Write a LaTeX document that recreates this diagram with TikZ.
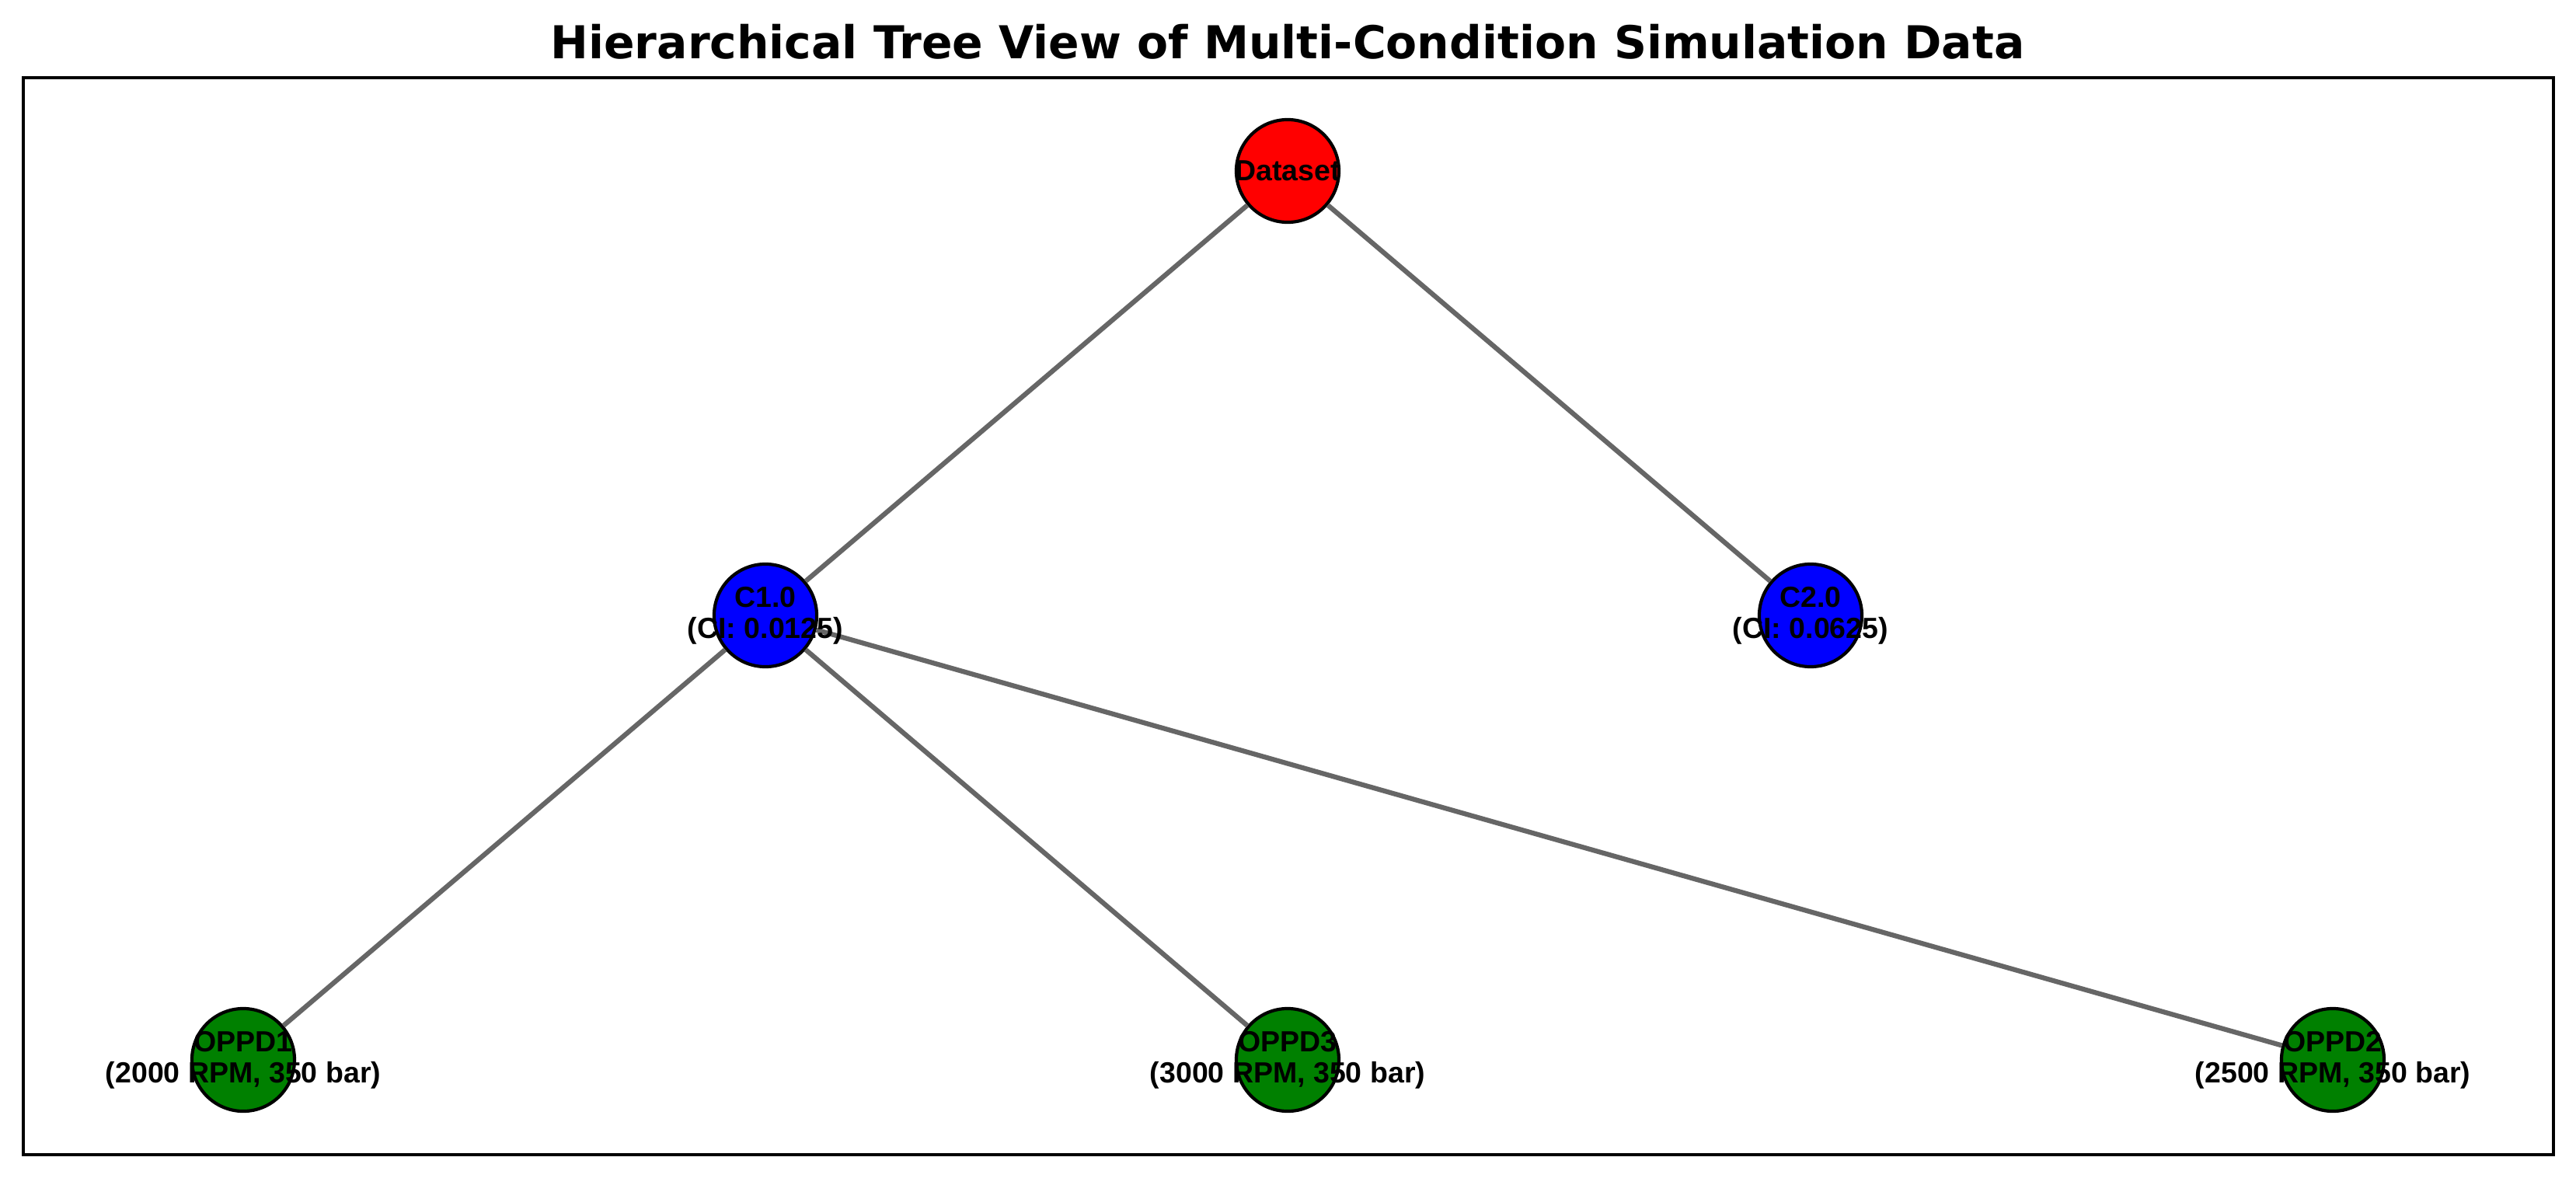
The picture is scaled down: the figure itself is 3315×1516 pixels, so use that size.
\documentclass[tikz,border=0pt]{standalone}
\usepackage{fontspec}
\newfontfamily\labfont{Liberation Sans}
\newfontfamily\ttlfont{DejaVu Sans}
\definecolor{edgegray}{HTML}{666666}
\definecolor{nred}{HTML}{FF0000}
\definecolor{nblue}{HTML}{0000FF}
\definecolor{ngreen}{HTML}{008000}
\tikzset{
  treenode/.style={circle, draw=black, line width=1pt, minimum size=31.7pt, inner sep=0pt},
  treeedge/.style={draw=edgegray, line width=1.5pt},
  nodetext/.style={align=center, inner sep=0pt, font=\labfont\bfseries\fontsize{9}{9.6}\selectfont},
  titletext/.style={inner sep=0pt, anchor=base, font=\ttlfont\bfseries\fontsize{14}{16}\selectfont}
}
\begin{document}
\begin{tikzpicture}[x=0.24pt, y=-0.24pt]
\useasboundingbox (0,0) rectangle (3315,1516);
\draw[line width=0.8pt] (30,100) rectangle (3286,1486);
\node[titletext] (title) at (1657,75) {Hierarchical Tree View of Multi-Condition Simulation Data};
% circles
\node[treenode, fill=nred] (ds) at (1657,220) {};
\node[treenode, fill=nblue] (c1) at (985,792) {};
\node[treenode, fill=nblue] (c2) at (2330,792) {};
\node[treenode, fill=ngreen] (o1) at (313,1364) {};
\node[treenode, fill=ngreen] (o3) at (1657,1364) {};
\node[treenode, fill=ngreen] (o2) at (3002,1364) {};
% edges
\draw[treeedge] (ds) -- (c1);
\draw[treeedge] (ds) -- (c2);
\draw[treeedge] (c1) -- (o1);
\draw[treeedge] (c1) -- (o3);
\draw[treeedge] (c1) -- (o2);
% labels
\node[nodetext] (tds) at (ds.center) {Dataset};
\node[nodetext] (tc1) at (c1.center) {C1.0\\(CI: 0.0125)};
\node[nodetext] (tc2) at (c2.center) {C2.0\\(CI: 0.0625)};
\node[nodetext] (to1) at (o1.center) {OPPD1\\(2000 RPM, 350 bar)};
\node[nodetext] (to3) at (o3.center) {OPPD3\\(3000 RPM, 350 bar)};
\node[nodetext] (to2) at (o2.center) {OPPD2\\(2500 RPM, 350 bar)};
\end{tikzpicture}
\end{document}
